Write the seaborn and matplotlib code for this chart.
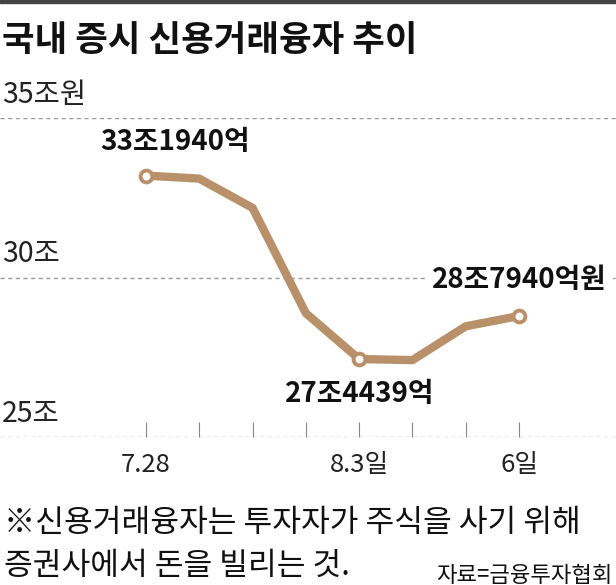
#-----------------------------------------------------------------------------#
'''Module'''
import numpy as np
import pandas as pd
import matplotlib
matplotlib.use("Agg")
import matplotlib.pyplot as plt
import seaborn as sns
from matplotlib.patches import Rectangle
from matplotlib.transforms import blended_transform_factory
#-----------------------------------------------------------------------------#
'''데이터 (조원)'''
dates = ["7.28", "7.29", "7.30", "7.31", "8.3", "8.4", "8.5", "8.6"]
tick_labels = ["7.28", "", "", "", "8.3일", "", "", "6일"]
values = [33.194, 33.10, 32.18, 28.88, 27.4439, 27.41, 28.47, 28.794]
point_labels = {0: "33조1940억", 4: "27조4439억", 7: "28조7940억원"}
y_levels = [35, 30, 25]
y_labels = ["35조원", "30조", "25조"]

df = pd.DataFrame({"date": dates, "value": values})
df["pos"] = np.arange(len(df))
#-----------------------------------------------------------------------------#
sns.set_theme(style="white")
Font = "Noto Sans CJK KR"
plt.rcParams["font.family"] = [Font, "DejaVu Sans"]

LINE = "#b8916b"
W, H = 616, 585
fig = plt.figure(figsize=(W / 100, H / 100), dpi=100)
# 35 gridline ~ y=118px, 25 gridline ~ y=437px
ax = fig.add_axes([0, (H - 437) / H, 1, (437 - 118) / H])
ax.set_xlim(-146 / 53.29, (W - 146) / 53.29)
ax.set_ylim(25, 35)

for lv in y_levels:
    ax.axhline(lv, color="#9a9a9a", lw=1, ls=(0, (3, 2.5)), zorder=1)

sns.lineplot(data=df, x="pos", y="value", ax=ax, color=LINE, lw=6,
             marker="o", markevery=[0, 4, 7], markersize=8.5,
             markerfacecolor="white", markeredgecolor=LINE,
             markeredgewidth=2.8, clip_on=False, zorder=3)

# 값 라벨
offsets = {0: (21, 24), 4: (0, -25), 7: (0, 26)}
for i, txt in point_labels.items():
    ax.annotate(txt, (df["pos"][i], df["value"][i]), xytext=offsets[i],
                textcoords="offset points", ha="center", va="center",
                fontsize=20, fontweight="bold", color="#111111", zorder=4,
                bbox=dict(boxstyle="square,pad=0.25", fc="white", ec="none"))

# y축 라벨
tr = blended_transform_factory(ax.transAxes, ax.transData)
for lv, lab in zip(y_levels, y_labels):
    ax.annotate(lab, (0.003, lv), xycoords=tr, xytext=(0, 6),
                textcoords="offset points", ha="left", va="bottom",
                fontsize=20.5, color="#222222")

ax.set_xticks(df["pos"])
ax.set_xticklabels(tick_labels, fontsize=18.5, color="#222222")
ax.tick_params(axis="x", direction="in", length=10.5, width=0.8,
               color="#888888", pad=11, bottom=True)
ax.set_yticks([])
ax.set_xlabel("")
ax.set_ylabel("")
for s in ax.spines.values():
    s.set_visible(False)
ax.patch.set_alpha(0)

# 제목, 각주
fig.patches.append(Rectangle((0, 1 - 3 / H), 1, 3 / H, transform=fig.transFigure,
                             color="#444444", zorder=0))
fig.text(0.004, 1 - 40 / H, "국내 증시 신용거래융자 추이", fontsize=25.5,
         fontweight="bold", va="center", ha="left", color="#111111")
fig.text(0.006, 1 - 523 / H, "※신용거래융자는 투자자가 주식을 사기 위해",
         fontsize=22.5, va="center", ha="left", color="#111111")
fig.text(0.006, 1 - 566 / H, "증권사에서 돈을 빌리는 것.",
         fontsize=22.5, va="center", ha="left", color="#111111")
fig.text(0.995, 1 - 575 / H, "자료=금융투자협회", fontsize=16,
         va="center", ha="right", color="#111111")

fig.savefig("out.png", dpi=100)
